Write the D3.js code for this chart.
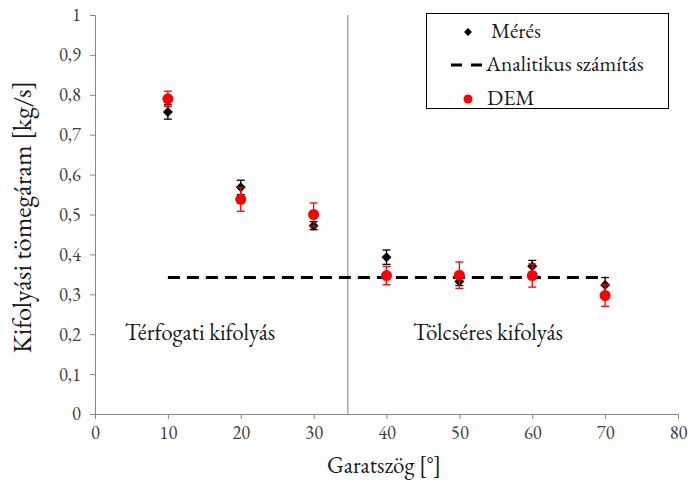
<!DOCTYPE html>
<html>
<head>
<meta charset="utf-8">
<script src="https://cdn.jsdelivr.net/npm/d3@7"></script>
<style>
  html, body { margin: 0; padding: 0; background: #fff; }
  svg { display: block; }
</style>
</head>
<body>
<svg id="chart" width="691" height="483"></svg>
<script>
// Outflow angle (degrees)
const angles = [10, 20, 30, 40, 50, 60, 70];
// Measured mass flow rate (kg/s) and its error
const meresValues = [0.757, 0.568, 0.472, 0.393, 0.332, 0.370, 0.323];
const meresErr    = [0.018, 0.018, 0.010, 0.018, 0.010, 0.015, 0.019];
// DEM simulation results (kg/s) and error
const demValues = [0.790, 0.538, 0.500, 0.347, 0.348, 0.347, 0.297];
const demErr    = [0.019, 0.030, 0.029, 0.023, 0.033, 0.029, 0.027];
// Analytical calculation (constant over the angle range)
const analyticX = [10, 70];
const analyticY = [0.342, 0.342];
// Boundary between the two flow regimes
const regimeBoundary = 34.7;
const xTicks = [0, 10, 20, 30, 40, 50, 60, 70, 80];
const yTicks = [0, 0.1, 0.2, 0.3, 0.4, 0.5, 0.6, 0.7, 0.8, 0.9, 1];

const FONT = "'EB Garamond'";
const svg = d3.select("#chart");
const plotLeft = 95, plotRight = 678, plotTop = 15, plotBottom = 414;

const x = d3.scaleLinear().domain([0, 80]).range([plotLeft, plotRight]);
const y = d3.scaleLinear().domain([0, 1]).range([plotBottom, plotTop]);
const fmt = d => String(d3.format("~g")(d)).replace(".", ",");
const axisColor = "#868686";

function label(px, py, str, size, anchor) {
  return svg.append("text").attr("x", px).attr("y", py)
    .attr("text-anchor", anchor || "start").attr("fill", "#1a1a1a")
    .style("font-family", FONT).style("font-size", size + "px").text(str);
}

// Axes
const gx = svg.append("g").attr("transform", `translate(0,${plotBottom})`)
  .call(d3.axisBottom(x).tickValues(xTicks).tickSize(5).tickPadding(7).tickFormat(d => d));
const gy = svg.append("g").attr("transform", `translate(${plotLeft},0)`)
  .call(d3.axisLeft(y).tickValues(yTicks).tickSize(5).tickPadding(9).tickFormat(fmt));
[gx, gy].forEach(g => {
  g.select(".domain").attr("stroke", axisColor);
  g.selectAll(".tick line").attr("stroke", axisColor);
  g.selectAll(".tick text").attr("fill", "#404040")
    .style("font-family", FONT).style("font-size", "18.5px");
});

// Regime boundary line
svg.append("line")
  .attr("x1", x(regimeBoundary)).attr("x2", x(regimeBoundary))
  .attr("y1", y(1)).attr("y2", y(0))
  .attr("stroke", "#7f7f7f").attr("stroke-width", 1);

// Axis titles
label(384, 473, "Garatszög [°]", 23, "middle");
label(0, 0, "Kifolyási tömegáram [kg/s]", 26.5, "middle")
  .attr("transform", "translate(31,217) rotate(-90)");

// Regime labels
label(200, 340, "Térfogati kifolyás", 23, "middle");
label(488, 340, "Tölcséres kifolyás", 23, "middle");

// Analytical line
svg.append("path")
  .datum(analyticX.map((d, i) => [d, analyticY[i]]))
  .attr("d", d3.line().x(d => x(d[0])).y(d => y(d[1])))
  .attr("fill", "none").attr("stroke", "#000").attr("stroke-width", 3)
  .attr("stroke-dasharray", "12,7");

function errorBars(vals, errs, color) {
  const g = svg.append("g").attr("stroke", color).attr("stroke-width", 1.3);
  angles.forEach((a, i) => {
    const cx = x(a), y1 = y(vals[i] - errs[i]), y2 = y(vals[i] + errs[i]);
    g.append("line").attr("x1", cx).attr("x2", cx).attr("y1", y1).attr("y2", y2);
    g.append("line").attr("x1", cx - 4).attr("x2", cx + 4).attr("y1", y1).attr("y2", y1);
    g.append("line").attr("x1", cx - 4).attr("x2", cx + 4).attr("y1", y2).attr("y2", y2);
  });
}

// Square rotated 45° gives an equal-sided diamond marker
const diamond = d3.symbol().type(d3.symbolSquare).size(50);

// Measurement series
errorBars(meresValues, meresErr, "#000");
svg.append("g").selectAll("path").data(angles).join("path")
  .attr("transform", (d, i) => `translate(${x(d)},${y(meresValues[i])}) rotate(45)`)
  .attr("d", diamond).attr("fill", "#000");

// DEM series
errorBars(demValues, demErr, "#ff0000");
svg.append("g").selectAll("circle").data(angles).join("circle")
  .attr("cx", d => x(d)).attr("cy", (d, i) => y(demValues[i]))
  .attr("r", 5.5).attr("fill", "#ff0000");

// Legend
const lg = svg.append("g");
lg.append("rect").attr("x", 426.5).attr("y", 13.5).attr("width", 242).attr("height", 95)
  .attr("fill", "#fff").attr("stroke", "#000").attr("stroke-width", 1);
lg.append("path").attr("transform", "translate(468,32) rotate(45)")
  .attr("d", d3.symbol().type(d3.symbolSquare).size(32)).attr("fill", "#000");
label(491, 38, "Mérés", 21.5);
lg.append("line").attr("x1", 451).attr("x2", 482).attr("y1", 65).attr("y2", 65)
  .attr("stroke", "#000").attr("stroke-width", 3).attr("stroke-dasharray", "11,9");
label(486, 71, "Analitikus számítás", 21.5);
lg.append("circle").attr("cx", 468).attr("cy", 99).attr("r", 4.5).attr("fill", "#ff0000");
label(487, 105, "DEM", 21.5);
</script>
</body>
</html>
